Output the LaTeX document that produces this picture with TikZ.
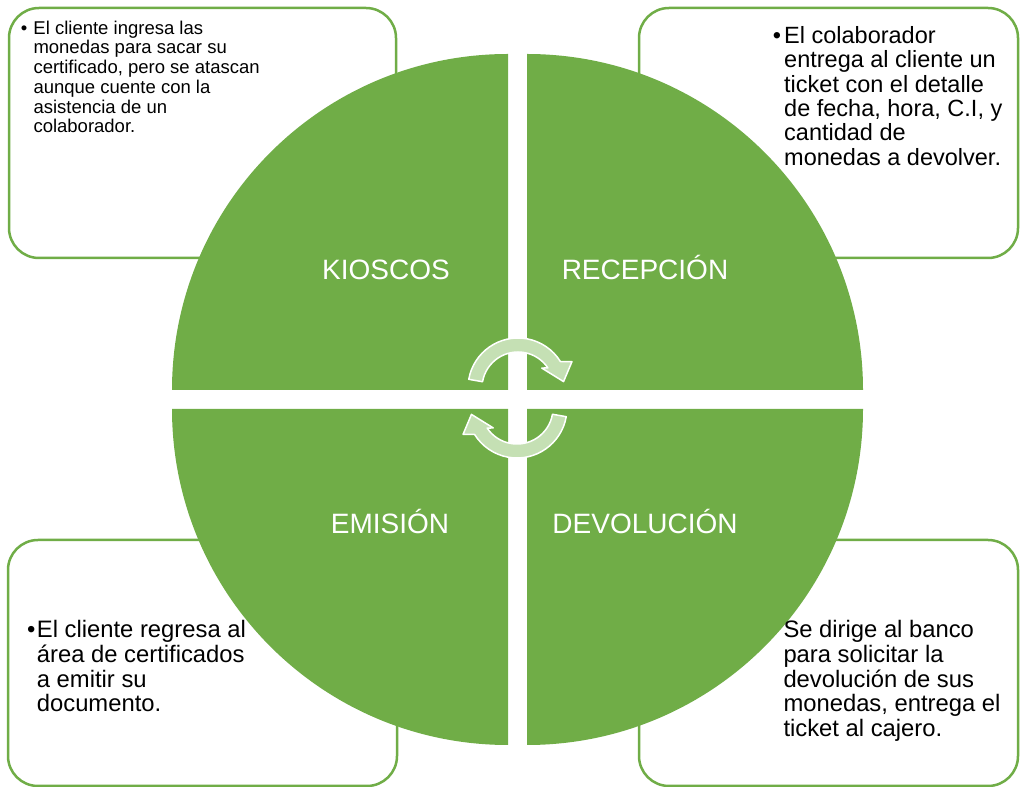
\documentclass[tikz,border=0pt]{standalone}
\usepackage{fontspec}
\setmainfont{Liberation Sans}
\definecolor{cmgreen}{HTML}{70AD47}
\definecolor{arrowgreen}{HTML}{C5E0B4}
\tikzset{
  quarter/.style={fill=cmgreen},
  infobox/.style={draw=cmgreen, line width=2.5pt, rounded corners=30pt, fill=white},
  phase/.style={text=white, inner sep=0pt, anchor=base, font=\fontsize{28}{33}\selectfont},
  infotext/.style={inner sep=0pt, anchor=base west, align=left},
  cyclearrow/.style={fill=arrowgreen, draw=white, line width=1.5pt, line join=round}
}
\begin{document}
\begin{tikzpicture}[x=1pt, y=1pt]
  \useasboundingbox (0,0) rectangle (1020,787);
  % text boxes behind the circle
  \draw[infobox] (9,529) rectangle (396,779);
  \draw[infobox] (639,529) rectangle (1018,779);
  \draw[infobox] (8,1) rectangle (397,247);
  \draw[infobox] (639,1) rectangle (1018,247);
  % four quarters
  \fill[quarter] (508,397) -- (172,397) arc[start angle=180, end angle=90, radius=336] -- cycle;
  \fill[quarter] (527,397) -- (527,733) arc[start angle=90, end angle=0, radius=336] -- cycle;
  \fill[quarter] (527,378) -- (863,378) arc[start angle=0, end angle=-90, radius=336] -- cycle;
  \fill[quarter] (508,378) -- (508,42) arc[start angle=270, end angle=180, radius=336] -- cycle;
  % phase names
  \node (kioscos) [phase] at (386,507) {KIOSCOS};
  \node (recepcion) [phase] at (645,507) {RECEPCIÓN};
  \node (emision) [phase] at (390,253) {EMISIÓN};
  \node (devolucion) [phase] at (645,253) {DEVOLUCIÓN};
  % circular arrows in the middle
  \draw[cyclearrow, shift={(518,399)}] (170:50) arc[start angle=170, end angle=32, radius=50]
    -- (26:60) -- (8:46) -- (40:31) -- (34:36) arc[start angle=34, end angle=170, radius=36] -- cycle;
  \draw[cyclearrow, shift={(517,379)}, rotate=180] (170:50) arc[start angle=170, end angle=32, radius=50]
    -- (26:60) -- (8:46) -- (40:31) -- (34:36) arc[start angle=34, end angle=170, radius=36] -- cycle;
  % box texts
  \node (kioscostext) [infotext, font=\fontsize{18.5}{19.7}\selectfont] at (20.7,752.7) {%
    \begin{tabular}[t]{@{}p{12.6pt}@{}l@{}}
    • & El cliente ingresa las\\
      & monedas para sacar su\\
      & certificado, pero se atascan\\
      & aunque cuente con la\\
      & asistencia de un\\
      & colaborador.
    \end{tabular}};
  \node (recepciontext) [infotext, font=\fontsize{23.5}{24.4}\selectfont] at (772.7,743.7) {%
    \begin{tabular}[t]{@{}p{11.3pt}@{}l@{}}
    • & El colaborador\\
      & entrega al cliente un\\
      & ticket con el detalle\\
      & de fecha, hora, C.I, y\\
      & cantidad de\\
      & monedas a devolver.
    \end{tabular}};
  \node (emisiontext) [infotext, font=\fontsize{23.8}{24.8}\selectfont] at (27,149.7) {%
    \begin{tabular}[t]{@{}p{9.7pt}@{}l@{}}
    • & El cliente regresa al\\
      & área de certificados\\
      & a emitir su\\
      & documento.
    \end{tabular}};
  \node (devoluciontext) [infotext, font=\fontsize{23.8}{24.8}\selectfont] at (783.3,149.7) {%
    \begin{tabular}[t]{@{}l@{}}
    Se dirige al banco\\
    para solicitar la\\
    devolución de sus\\
    monedas, entrega el\\
    ticket al cajero.
    \end{tabular}};
\end{tikzpicture}
\end{document}
